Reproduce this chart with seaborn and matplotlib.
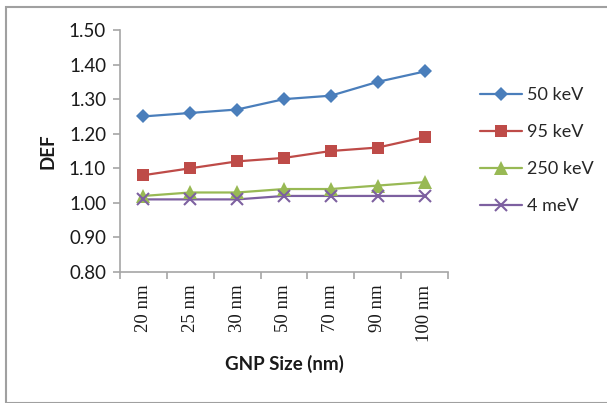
import matplotlib
matplotlib.use("Agg")
import matplotlib.pyplot as plt
from matplotlib.patches import Rectangle
from matplotlib.ticker import FixedLocator, FormatStrFormatter
import pandas as pd
import seaborn as sns

# GNP sizes and dose enhancement factors per beam energy
sizes = ["20 nm", "25 nm", "30 nm", "50 nm", "70 nm", "90 nm", "100 nm"]
def_50kev = [1.25, 1.26, 1.27, 1.30, 1.31, 1.35, 1.38]
def_95kev = [1.08, 1.10, 1.12, 1.13, 1.15, 1.16, 1.19]
def_250kev = [1.02, 1.03, 1.03, 1.04, 1.04, 1.05, 1.06]
def_4mev = [1.01, 1.01, 1.01, 1.02, 1.02, 1.02, 1.02]
series_names = ["50 keV", "95 keV", "250 keV", "4 meV"]
y_ticks = [0.80, 0.90, 1.00, 1.10, 1.20, 1.30, 1.40, 1.50]

series_values = [def_50kev, def_95kev, def_250kev, def_4mev]
rows = []
for name, vals in zip(series_names, series_values):
    for i, (s, v) in enumerate(zip(sizes, vals)):
        rows.append({"pos": i, "size": s, "DEF": v, "energy": name})
df = pd.DataFrame(rows)

sns.set_theme(style="white")
plt.rcParams["font.family"] = ["Lato", "DejaVu Sans"]

colors = {"50 keV": "#4A7EBB", "95 keV": "#BE4B48", "250 keV": "#98B954", "4 meV": "#7D60A0"}
markers = {"50 keV": "D", "95 keV": "s", "250 keV": "^", "4 meV": "x"}
marker_sizes = {"50 keV": 7.5, "95 keV": 9, "250 keV": 10, "4 meV": 9}

fig = plt.figure(figsize=(6.07, 4.03), dpi=100)
ax = fig.add_axes([120 / 607, 1 - 272 / 403, 328 / 607, 242 / 403])

# connecting lines for each series
sns.lineplot(data=df, x="pos", y="DEF", hue="energy", style="energy",
             palette=colors, markers=False, dashes=False, linewidth=1.6,
             legend=False, ax=ax, sort=False)

# markers on top of the lines, plus legend handles
handles = []
for name in series_names:
    sub = df[df["energy"] == name]
    m = markers[name]
    mew = 1.5 if m == "x" else 0
    ax.plot(sub["pos"], sub["DEF"], linestyle="none", marker=m,
            markersize=marker_sizes[name], markeredgewidth=mew,
            color=colors[name])
    h, = ax.plot([], [], color=colors[name], lw=1.6, marker=m,
                 markersize=marker_sizes[name], markeredgewidth=mew)
    handles.append(h)

ax.set_xlim(-0.5, len(sizes) - 0.5)
ax.set_ylim(0.80, 1.50)

axis_grey = "#A6A6A6"
for side in ["top", "right"]:
    ax.spines[side].set_visible(False)
for side in ["left", "bottom"]:
    ax.spines[side].set_color(axis_grey)
    ax.spines[side].set_linewidth(1.2)

ax.yaxis.set_major_locator(FixedLocator(y_ticks))
ax.yaxis.set_major_formatter(FormatStrFormatter("%.2f"))
ax.tick_params(axis="y", which="major", direction="out", length=5, width=1.2,
               color=axis_grey, labelsize=13.5, labelcolor="#1a1a1a", pad=5, left=True)

ax.set_xticks(range(len(sizes)))
ax.set_xticklabels(sizes, rotation=90, family=["Liberation Serif"], fontsize=13.5,
                   color="#1a1a1a")
ax.xaxis.set_minor_locator(FixedLocator([i - 0.5 for i in range(len(sizes) + 1)]))
ax.tick_params(axis="x", which="major", length=0, pad=9)
ax.tick_params(axis="x", which="minor", direction="out", length=5, width=1.2,
               color=axis_grey, bottom=True)

ax.set_xlabel("GNP Size (nm)", fontsize=13.5, fontweight="bold", color="#1a1a1a",
              labelpad=10)
ax.set_ylabel("DEF", fontsize=13.5, fontweight="bold", color="#1a1a1a", labelpad=9)

fig.legend(handles, series_names, loc="upper left", bbox_to_anchor=(480 / 607, 1 - 87 / 403),
           frameon=False, fontsize=13, handlelength=2.3, handletextpad=0.3,
           labelspacing=1.17, borderaxespad=0, borderpad=0)

fig.patches.append(Rectangle((6 / 607, 0.5 / 403), 1.2, 396 / 403, transform=fig.transFigure,
                             fill=False, edgecolor="#A0A0A0", linewidth=1.5))

fig.savefig("out.png", dpi=100)
